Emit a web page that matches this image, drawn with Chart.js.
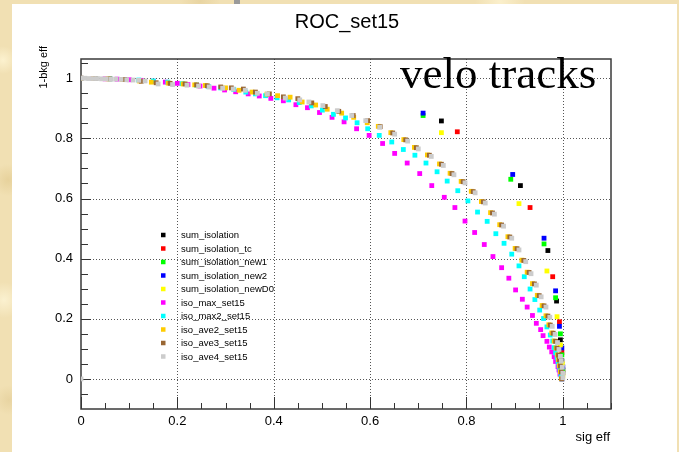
<!DOCTYPE html>
<html>
<head>
<meta charset="utf-8">
<script src="https://cdn.jsdelivr.net/npm/chart.js@4.4.1/dist/chart.umd.min.js"></script>
<style>
  html, body { margin: 0; padding: 0; width: 679px; height: 452px; overflow: hidden; }
  body {
    position: relative;
    background-color: #f1e0b3;
    background-image:
      radial-gradient(circle at 3px 60px, rgba(255,246,214,0.8) 0, rgba(255,246,214,0) 14px),
      radial-gradient(circle at 8px 180px, rgba(224,200,140,0.6) 0, rgba(224,200,140,0) 16px),
      radial-gradient(circle at 4px 300px, rgba(255,248,220,0.7) 0, rgba(255,248,220,0) 18px),
      radial-gradient(circle at 9px 400px, rgba(226,204,150,0.6) 0, rgba(226,204,150,0) 15px),
      radial-gradient(circle at 200px 1px, rgba(226,204,150,0.6) 0, rgba(226,204,150,0) 20px),
      radial-gradient(circle at 500px 2px, rgba(255,246,214,0.7) 0, rgba(255,246,214,0) 25px);
  }
  #panel { position: absolute; left: 12px; top: 4px; width: 665px; height: 448px; background: #fff; }
  #mark { position: absolute; left: 234px; top: 0; width: 6px; height: 4px; background: #9a9a9a; }
  #wrap { position: absolute; left: 0; top: 0; width: 679px; height: 452px; }
</style>
</head>
<body>
<div id="panel"></div>
<div id="mark"></div>
<div id="wrap"><canvas id="roc" width="679" height="452"></canvas></div>
<script>
// ---- axis layout values ----
const xRange = [0, 1.1];
const yRange = [-0.1, 1.064];
const xLabelValues = [0, 0.2, 0.4, 0.6, 0.8, 1];
const yLabelValues = [0, 0.2, 0.4, 0.6, 0.8, 1];

// ---- series names and colours ----
const seriesNames = [
  'sum_isolation', 'sum_isolation_tc', 'sum_isolation_new1', 'sum_isolation_new2',
  'sum_isolation_newD0', 'iso_max_set15', 'iso_max2_set15', 'iso_ave2_set15',
  'iso_ave3_set15', 'iso_ave4_set15'
];
const seriesColors = [
  '#000000', '#ff0000', '#00ff00', '#0000ff', '#ffff00',
  '#ff00ff', '#00ffff', '#ffcc00', '#996633', '#cccccc'
];

// ---- ROC points: [signal efficiency, 1 - background efficiency] ----
const sumIsolation = [
  [0.748, 0.858], [0.912, 0.643], [0.969, 0.427], [0.987, 0.259], [0.995, 0.130], [0.998, 0.060], [1.000, 0.020]
];
const sumIsolationTc = [
  [0.781, 0.822], [0.932, 0.570], [0.979, 0.340], [0.993, 0.190], [0.998, 0.088], [1.000, 0.030]
];
const sumIsolationNew1 = [
  [0.710, 0.876], [0.892, 0.664], [0.961, 0.449], [0.985, 0.270], [0.995, 0.150], [0.998, 0.080], [1.000, 0.030]
];
const sumIsolationNew2 = [
  [0.710, 0.884], [0.896, 0.680], [0.961, 0.468], [0.985, 0.293], [0.993, 0.175], [0.998, 0.103], [1.000, 0.040]
];
const sumIsolationNewD0 = [
  [0.748, 0.819], [0.909, 0.583], [0.967, 0.359], [0.988, 0.207], [0.995, 0.113], [0.999, 0.050], [1.000, 0.010]
];
const isoMaxSet15 = [
  [0.000, 1.000], [0.025, 0.999], [0.050, 0.998], [0.075, 0.997], [0.100, 0.995], [0.125, 0.993],
  [0.150, 0.990], [0.175, 0.987], [0.200, 0.983], [0.222, 0.979], [0.247, 0.974], [0.276, 0.967],
  [0.298, 0.961], [0.321, 0.955], [0.347, 0.948], [0.370, 0.941], [0.394, 0.933], [0.420, 0.925],
  [0.446, 0.912], [0.470, 0.902], [0.495, 0.886], [0.521, 0.870], [0.546, 0.855], [0.572, 0.832],
  [0.598, 0.810], [0.626, 0.783], [0.651, 0.750], [0.677, 0.718], [0.703, 0.683], [0.728, 0.643],
  [0.754, 0.604], [0.776, 0.570], [0.797, 0.525], [0.817, 0.487], [0.837, 0.447], [0.855, 0.407],
  [0.873, 0.370], [0.888, 0.335], [0.902, 0.296], [0.916, 0.265], [0.926, 0.239], [0.937, 0.211],
  [0.945, 0.185], [0.954, 0.164], [0.959, 0.144], [0.967, 0.125], [0.972, 0.106], [0.977, 0.090],
  [0.982, 0.074], [0.985, 0.058], [0.990, 0.041], [0.992, 0.030], [0.994, 0.016], [0.998, 0.000]
];
const isoMax2Set15 = [
  [0.000, 1.000], [0.030, 0.999], [0.060, 0.998], [0.090, 0.996], [0.120, 0.994], [0.150, 0.991],
  [0.180, 0.987], [0.210, 0.982], [0.240, 0.977], [0.265, 0.972], [0.290, 0.968], [0.317, 0.963],
  [0.342, 0.954], [0.362, 0.948], [0.383, 0.942], [0.407, 0.935], [0.431, 0.928], [0.453, 0.919],
  [0.478, 0.908], [0.501, 0.894], [0.524, 0.880], [0.549, 0.868], [0.573, 0.852], [0.595, 0.832],
  [0.619, 0.810], [0.645, 0.788], [0.669, 0.763], [0.693, 0.744], [0.716, 0.718], [0.739, 0.689],
  [0.760, 0.658], [0.782, 0.626], [0.803, 0.592], [0.823, 0.555], [0.843, 0.524], [0.861, 0.483],
  [0.878, 0.451], [0.894, 0.415], [0.909, 0.376], [0.920, 0.340], [0.932, 0.299], [0.942, 0.264],
  [0.952, 0.229], [0.960, 0.201], [0.967, 0.173], [0.974, 0.146], [0.979, 0.126], [0.982, 0.104],
  [0.985, 0.087], [0.988, 0.072], [0.990, 0.058], [0.992, 0.043], [0.994, 0.030], [0.996, 0.013],
  [0.998, 0.000]
];
const isoAve2Set15 = [
  [0.000, 1.000], [0.026, 0.999], [0.056, 0.998], [0.086, 0.996], [0.121, 0.991], [0.146, 0.987],
  [0.181, 0.984], [0.212, 0.981], [0.236, 0.978], [0.258, 0.976], [0.300, 0.968], [0.328, 0.960],
  [0.355, 0.954], [0.386, 0.947], [0.408, 0.942], [0.434, 0.937], [0.459, 0.921], [0.487, 0.911],
  [0.511, 0.897], [0.541, 0.884], [0.566, 0.870], [0.594, 0.852], [0.617, 0.840], [0.643, 0.819],
  [0.670, 0.796], [0.692, 0.770], [0.719, 0.745], [0.744, 0.715], [0.766, 0.684], [0.789, 0.657],
  [0.810, 0.624], [0.831, 0.590], [0.850, 0.553], [0.869, 0.513], [0.886, 0.473], [0.901, 0.434],
  [0.915, 0.395], [0.926, 0.355], [0.937, 0.317], [0.947, 0.278], [0.957, 0.244], [0.965, 0.210],
  [0.971, 0.180], [0.977, 0.153], [0.982, 0.126], [0.986, 0.103], [0.989, 0.080], [0.991, 0.064],
  [0.993, 0.044], [0.995, 0.024], [0.997, 0.001]
];
const isoAve3Set15 = [
  [0.000, 1.000], [0.030, 0.999], [0.060, 0.998], [0.090, 0.996], [0.125, 0.990], [0.156, 0.985],
  [0.185, 0.983], [0.216, 0.981], [0.240, 0.978], [0.262, 0.975], [0.290, 0.971], [0.312, 0.968],
  [0.337, 0.964], [0.362, 0.954], [0.391, 0.948], [0.420, 0.938], [0.450, 0.932], [0.479, 0.918],
  [0.507, 0.906], [0.535, 0.890], [0.565, 0.876], [0.595, 0.859], [0.621, 0.839], [0.647, 0.818],
  [0.674, 0.795], [0.696, 0.769], [0.723, 0.744], [0.748, 0.714], [0.770, 0.683], [0.793, 0.656],
  [0.814, 0.623], [0.835, 0.589], [0.854, 0.552], [0.873, 0.512], [0.890, 0.472], [0.905, 0.433],
  [0.919, 0.394], [0.930, 0.354], [0.941, 0.316], [0.951, 0.277], [0.961, 0.243], [0.969, 0.209],
  [0.974, 0.179], [0.980, 0.152], [0.985, 0.125], [0.988, 0.102], [0.991, 0.079], [0.993, 0.063],
  [0.995, 0.043], [0.997, 0.023], [0.998, 0.000]
];
const isoAve4Set15 = [
  [0.000, 1.000], [0.008, 1.000], [0.016, 0.999], [0.025, 0.999], [0.034, 0.999], [0.043, 0.998],
  [0.052, 0.998], [0.062, 0.997], [0.072, 0.997], [0.083, 0.996], [0.095, 0.995], [0.108, 0.994],
  [0.120, 0.993], [0.133, 0.991], [0.160, 0.981], [0.190, 0.979], [0.220, 0.977], [0.244, 0.974],
  [0.266, 0.971], [0.294, 0.967], [0.316, 0.964], [0.341, 0.960], [0.366, 0.950], [0.387, 0.948],
  [0.424, 0.934], [0.454, 0.928], [0.473, 0.921], [0.502, 0.909], [0.532, 0.892], [0.562, 0.876],
  [0.591, 0.859], [0.620, 0.837], [0.651, 0.814], [0.678, 0.791], [0.700, 0.765], [0.727, 0.740],
  [0.752, 0.710], [0.774, 0.679], [0.797, 0.652], [0.818, 0.619], [0.839, 0.585], [0.858, 0.548],
  [0.877, 0.508], [0.894, 0.468], [0.909, 0.429], [0.923, 0.390], [0.934, 0.350], [0.945, 0.312],
  [0.955, 0.273], [0.965, 0.239], [0.973, 0.205], [0.978, 0.175], [0.984, 0.148], [0.989, 0.121],
  [0.992, 0.098], [0.995, 0.075], [0.997, 0.059], [0.999, 0.039], [1.000, 0.019], [1.000, 0.004],
  [0.000, 0.000]
];

const seriesPoints = [
  sumIsolation, sumIsolationTc, sumIsolationNew1, sumIsolationNew2, sumIsolationNewD0,
  isoMaxSet15, isoMax2Set15, isoAve2Set15, isoAve3Set15, isoAve4Set15
];

const FONT = '"Liberation Sans", Arial, Helvetica, sans-serif';

// Later series are painted over earlier ones (lower "order" draws on top).
const datasets = seriesPoints.map((pts, i) => ({
  label: seriesNames[i],
  data: pts.map(([x, y]) => ({ x, y })),
  backgroundColor: seriesColors[i],
  borderWidth: 0,
  pointStyle: 'rect',
  pointRadius: 3.4,
  pointHoverRadius: 3.4,
  showLine: false,
  order: seriesPoints.length - i
}));

const onStep = (v) => Math.abs(v * 5 - Math.round(v * 5)) < 1e-6;
const fmt = (v) => String(Math.round(v * 10) / 10);

// Frame, dotted grid and inward-pointing ticks in the ROOT style.
const rootFrame = {
  id: 'rootFrame',
  beforeDatasetsDraw(chart) {
    const { ctx, chartArea: a, scales: { x, y } } = chart;
    const seg = (x1, y1, x2, y2) => { ctx.beginPath(); ctx.moveTo(x1, y1); ctx.lineTo(x2, y2); ctx.stroke(); };
    ctx.save();
    // grid
    ctx.strokeStyle = '#555';
    ctx.lineWidth = 1;
    ctx.setLineDash([1, 2]);
    xLabelValues.filter(v => v > 0).forEach(v => {
      const px = Math.round(x.getPixelForValue(v)) + 0.5;
      seg(px, a.top, px, a.bottom);
    });
    yLabelValues.forEach(v => {
      const py = Math.round(y.getPixelForValue(v)) + 0.5;
      seg(a.left, py, a.right, py);
    });
    ctx.setLineDash([]);
    // ticks
    ctx.strokeStyle = '#333';
    ctx.lineWidth = 1;
    for (let k = 0; k <= 22; k++) {
      const v = k * 0.05;
      const px = Math.round(x.getPixelForValue(v)) + 0.5;
      const len = onStep(v) ? 12 : 6;
      seg(px, a.bottom, px, a.bottom - len);
    }
    for (let k = -2; k <= 21; k++) {
      const v = k * 0.05;
      const py = Math.round(y.getPixelForValue(v)) + 0.5;
      if (py < a.top || py > a.bottom) continue;
      const len = onStep(v) ? 10 : 7;
      seg(a.left, py, a.left + len, py);
    }
    // frame
    ctx.strokeStyle = '#3a3a3a';
    ctx.lineWidth = 1.5;
    ctx.strokeRect(a.left, a.top, a.right - a.left, a.bottom - a.top);
    ctx.restore();
  },
  afterDraw(chart) {
    const { ctx, chartArea: a } = chart;
    ctx.save();
    // title
    ctx.fillStyle = '#000';
    ctx.font = '20px ' + FONT;
    ctx.textAlign = 'center';
    ctx.textBaseline = 'alphabetic';
    ctx.fillText('ROC_set15', 347, 28);
    // axis titles
    ctx.font = '13px ' + FONT;
    ctx.textAlign = 'right';
    ctx.fillText('sig eff', a.right - 1, 441);
    ctx.save();
    ctx.translate(47, a.top - 13);
    ctx.rotate(-Math.PI / 2);
    ctx.font = '11px ' + FONT;
    ctx.textAlign = 'right';
    ctx.fillText('1-bkg eff', 0, 0);
    ctx.restore();
    // annotation
    ctx.font = '45px "Liberation Serif", "Times New Roman", serif';
    ctx.textAlign = 'left';
    ctx.fillText('velo tracks', 400, 88);
    // legend
    ctx.font = '9.5px ' + FONT;
    ctx.textBaseline = 'middle';
    seriesNames.forEach((name, i) => {
      const ry = 235 + i * 13.5;
      ctx.fillStyle = seriesColors[i];
      ctx.fillRect(161, ry - 2.25, 4.5, 4.5);
      ctx.fillStyle = '#000';
      ctx.fillText(name, 181, ry + 0.5);
    });
    ctx.restore();
  }
};

new Chart(document.getElementById('roc'), {
  type: 'scatter',
  data: { datasets },
  plugins: [rootFrame],
  options: {
    responsive: false,
    animation: false,
    events: [],
    layout: { padding: { left: 0, top: 59, right: 68, bottom: 0 } },
    plugins: { legend: { display: false }, tooltip: { enabled: false }, title: { display: false } },
    scales: {
      x: {
        type: 'linear', min: xRange[0], max: xRange[1],
        afterFit(scale) { scale.height = 43; },
        grid: { display: false, drawTicks: false }, border: { display: false },
        ticks: {
          stepSize: 0.2, padding: 5, maxRotation: 0, autoSkip: false,
          color: '#000', font: { family: FONT, size: 13 },
          callback: (v) => onStep(v) && xLabelValues.some(t => Math.abs(t - v) < 1e-6) ? fmt(v) : ''
        }
      },
      y: {
        type: 'linear', min: yRange[0], max: yRange[1],
        afterFit(scale) { scale.width = 81; },
        grid: { display: false, drawTicks: false }, border: { display: false },
        ticks: {
          stepSize: 0.2, padding: 8, autoSkip: false,
          color: '#000', font: { family: FONT, size: 13 },
          callback: (v) => onStep(v) && yLabelValues.some(t => Math.abs(t - v) < 1e-6) ? fmt(v) : ''
        }
      }
    }
  }
});
</script>
</body>
</html>
